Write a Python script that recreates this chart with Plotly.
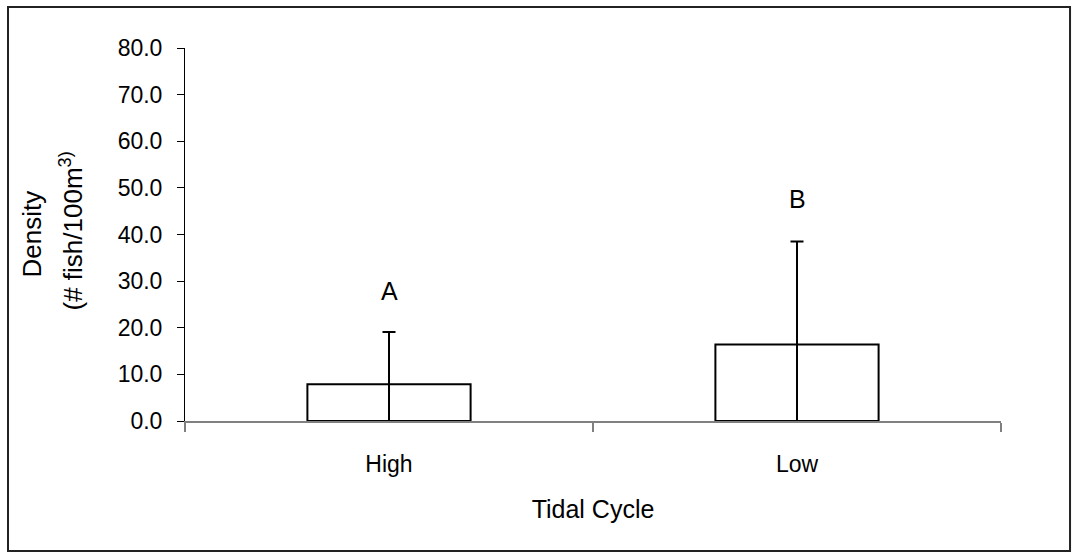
import plotly.graph_objects as go

# Mean fish density by tidal stage, with the upper standard deviation
tide = ["High", "Low"]
density = [7.9, 16.4]
density_sd = [11.2, 22.1]

# Significance groupings shown above each bar, and their heights
group_letters = ["A", "B"]
letter_heights = [27.8, 47.6]

y_ticks = [0, 10, 20, 30, 40, 50, 60, 70, 80]

FONT = "Liberation Sans, Arial, sans-serif"

fig = go.Figure()
fig.add_trace(
    go.Bar(
        x=tide,
        y=density,
        width=0.4,
        marker=dict(color="white", line=dict(color="black", width=2)),
        error_y=dict(
            type="data",
            symmetric=False,
            array=density_sd,
            arrayminus=density,
            color="black",
            thickness=2,
            width=6.5,
        ),
        showlegend=False,
    )
)

for cat, letter, h in zip(tide, group_letters, letter_heights):
    fig.add_annotation(
        x=cat, y=h, text=letter, showarrow=False,
        xanchor="center", yanchor="middle",
        font=dict(family=FONT, size=25, color="black"),
    )

# Two-line rotated y-axis title
fig.add_annotation(
    xref="paper", yref="paper", x=0, y=0.5, xshift=-154,
    text="Density", textangle=-90, showarrow=False,
    xanchor="center", yanchor="middle",
    font=dict(family=FONT, size=26, color="black"),
)
fig.add_annotation(
    xref="paper", yref="paper", x=0, y=0.508, xshift=-113,
    text="(# fish/100m<sup>3)</sup>", textangle=-90, showarrow=False,
    xanchor="center", yanchor="middle",
    font=dict(family=FONT, size=26, color="black"),
)

# Frame around the whole chart
fig.add_shape(
    type="rect", xref="paper", yref="paper",
    x0=-0.2169, x1=1.0846, y0=-0.3485, y1=1.1099,
    line=dict(color="#222222", width=2), fillcolor="rgba(0,0,0,0)",
    layer="below",
)

fig.update_layout(
    width=1073,
    height=552,
    margin=dict(l=185, r=72, t=48, b=131),
    paper_bgcolor="white",
    plot_bgcolor="white",
    font=dict(family=FONT, size=23, color="black"),
    xaxis=dict(
        type="category",
        categoryorder="array",
        categoryarray=tide,
        range=[-0.5, 1.5],
        showline=True,
        linecolor="#808080",
        linewidth=1.5,
        ticks="outside",
        tickson="boundaries",
        ticklen=9,
        tickcolor="#808080",
        tickwidth=1.5,
        ticklabelstandoff=22,
        showgrid=False,
        zeroline=False,
        layer="below traces",
        tickfont=dict(family=FONT, size=23),
        title=dict(text="Tidal Cycle", standoff=24,
                   font=dict(family=FONT, size=25)),
    ),
    yaxis=dict(
        range=[0, 80],
        tickvals=y_ticks,
        tickformat=".1f",
        showline=True,
        linecolor="black",
        linewidth=1,
        ticks="outside",
        ticklen=7,
        tickcolor="black",
        tickwidth=1,
        ticklabelstandoff=10,
        showgrid=False,
        zeroline=False,
        tickfont=dict(family=FONT, size=23),
    ),
)

fig.write_html("out.html")
